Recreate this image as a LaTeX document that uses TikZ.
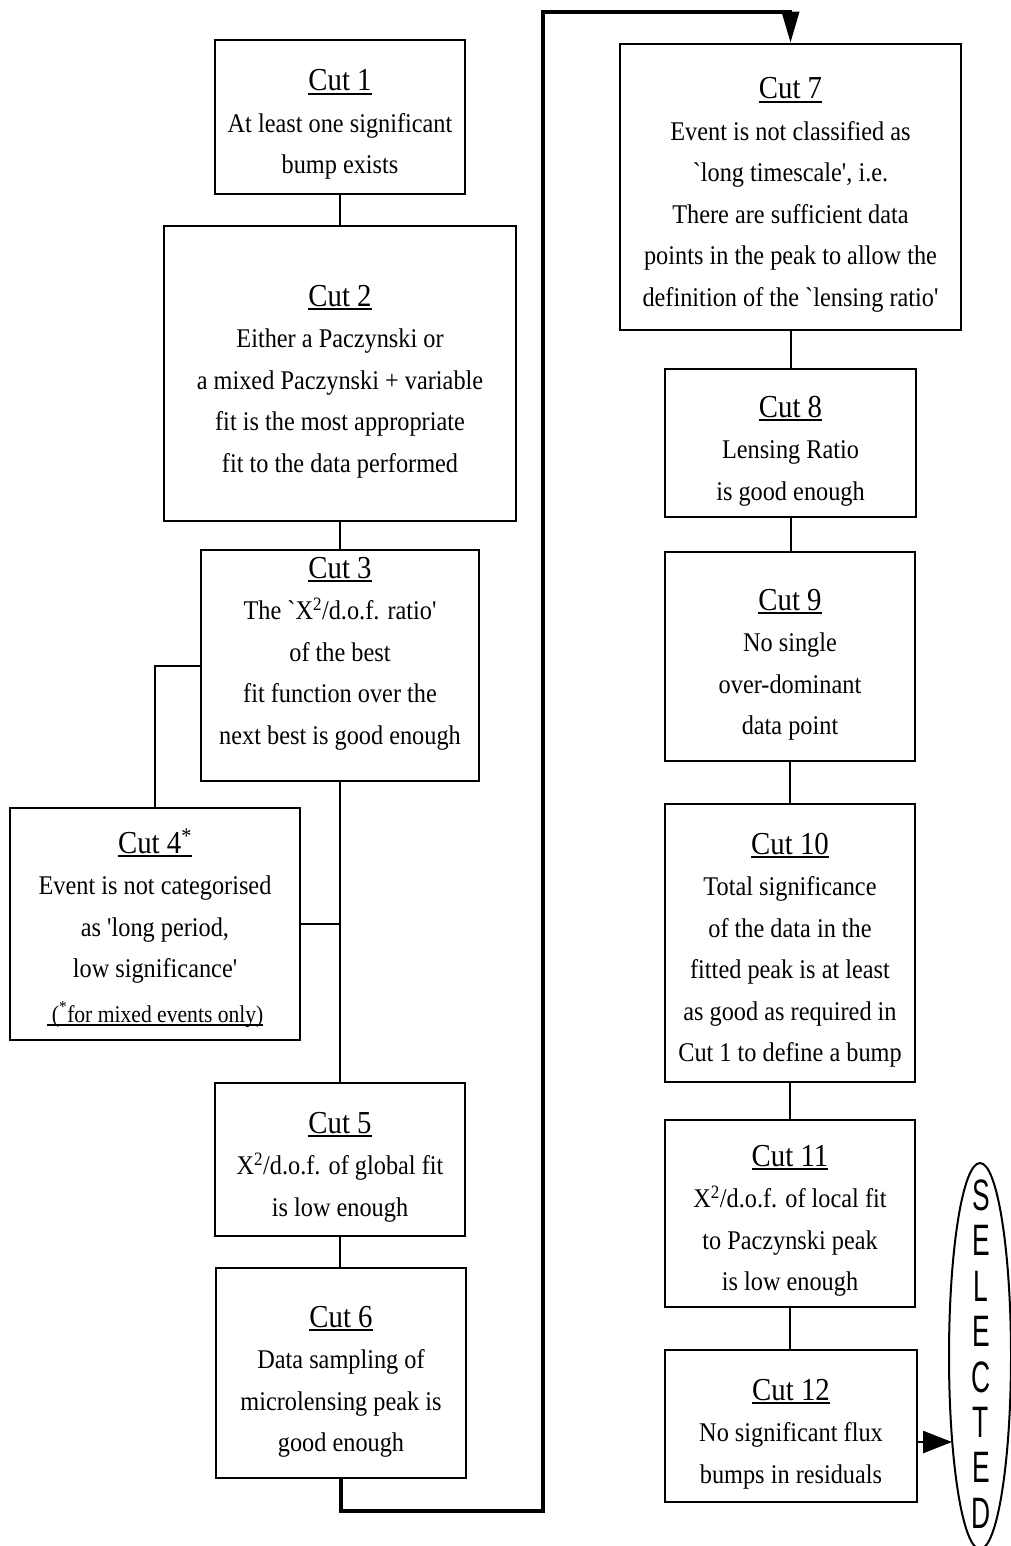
\documentclass[tikz,border=0pt]{standalone}
\usepackage{fontspec}
\newfontfamily\serf{Liberation Serif}[FakeStretch=0.9]
\newfontfamily\selfont{Liberation Sans}[FakeStretch=0.6]
\usetikzlibrary{arrows.meta,shapes.geometric}
\newsavebox\ulbox
\newcommand\myul[1]{\sbox\ulbox{#1}\rlap{\rule[-4pt]{\wd\ulbox}{2pt}}\usebox\ulbox}
\newcommand\cuttitle[1]{{\fontsize{32pt}{41.5pt}\selectfont\myul{#1}}}
\newcommand\lines[1]{\begin{tabular}[t]{@{}c@{}}#1\end{tabular}}
\newcommand\chisq{Χ\textsuperscript{2}}
\begin{document}
\begin{tikzpicture}[x=1pt,y=-1pt,
  box/.style={draw, line width=2.5pt, inner sep=0pt, rectangle},
  txt/.style={inner sep=0pt, anchor=base, font=\serf\fontsize{27pt}{41.5pt}\selectfont},
  conn/.style={line width=2pt},
  loopline/.style={line width=3.5pt, line join=miter}]
\useasboundingbox (0,0) rectangle (1011,1546);

% boxes
\node[box, minimum width=250pt, minimum height=154pt] (c1) at (340,117) {};
\node[box, minimum width=352pt, minimum height=295pt] (c2) at (340,373.5) {};
\node[box, minimum width=278pt, minimum height=231pt] (c3) at (340,665.5) {};
\node[box, minimum width=290pt, minimum height=232pt] (c4) at (155,924) {};
\node[box, minimum width=250pt, minimum height=153pt] (c5) at (340,1159.5) {};
\node[box, minimum width=250pt, minimum height=210pt] (c6) at (341,1373) {};
\node[box, minimum width=341pt, minimum height=286pt] (c7) at (790.5,187) {};
\node[box, minimum width=251pt, minimum height=148pt] (c8) at (790.5,443) {};
\node[box, minimum width=250pt, minimum height=209pt] (c9) at (790,656.5) {};
\node[box, minimum width=250pt, minimum height=278pt] (c10) at (790,943) {};
\node[box, minimum width=250pt, minimum height=187pt] (c11) at (790,1213.5) {};
\node[box, minimum width=252pt, minimum height=152pt] (c12) at (791,1426) {};

% texts
\node[txt] (t1) at (340,91) {\lines{\cuttitle{Cut 1}\\At least one significant\\bump exists}};
\node[txt] (t2) at (340,306) {\lines{\cuttitle{Cut 2}\\Either a Paczynski or\\a mixed Paczynski + variable\\fit is the most appropriate\\fit to the data performed}};
\node[txt] (t3) at (340,578) {\lines{\cuttitle{Cut 3}\\The `\chisq/d.o.f. ratio'\\of the best\\fit function over the\\next best is good enough}};
\node[txt] (t4) at (155,853) {\lines{\cuttitle{Cut 4\textsuperscript{*}}\\Event is not categorised\\as 'long period,\\low significance'\\[3pt]{\fontsize{24pt}{41.5pt}\selectfont\myul{\ (\textsuperscript{*}for mixed events only)}}}};
\node[txt] (t5) at (340,1133) {\lines{\cuttitle{Cut 5}\\\chisq/d.o.f. of global fit\\is low enough}};
\node[txt] (t6) at (341,1327) {\lines{\cuttitle{Cut 6}\\Data sampling of\\microlensing peak is\\good enough}};
\node[txt] (t7) at (790.5,99) {\lines{\cuttitle{Cut 7}\\Event is not classified as\\`long timescale', i.e.\\There are sufficient data\\points in the peak to allow the\\definition of the `lensing ratio'}};
\node[txt] (t8) at (790.5,417) {\lines{\cuttitle{Cut 8}\\Lensing Ratio\\is good enough}};
\node[txt] (t9) at (790,610) {\lines{\cuttitle{Cut 9}\\No single\\over-dominant\\data point}};
\node[txt] (t10) at (790,854) {\lines{\cuttitle{Cut 10}\\Total significance\\of the data in the\\fitted peak is at least\\as good as required in\\Cut 1 to define a bump}};
\node[txt] (t11) at (790,1166) {\lines{\cuttitle{Cut 11}\\\chisq/d.o.f. of local fit\\to Paczynski peak\\is low enough}};
\node[txt] (t12) at (791,1400) {\lines{\cuttitle{Cut 12}\\No significant flux\\bumps in residuals}};

% selected
\node[draw, ellipse, line width=2pt, minimum width=62pt, minimum height=386pt, inner sep=0pt] (sel) at (980,1356) {};
\node[inner sep=0pt, align=center, font=\selfont\fontsize{44pt}{45.4pt}\selectfont] (selt) at (981,1354) {S\\E\\L\\E\\C\\T\\E\\D};

% connectors
\draw[conn] (c1.south) -- (c2.north);
\draw[conn] (c2.south) -- (c3.north);
\draw[conn] (c3.west) -| (c4.north);
\draw[conn] (c3.south) -- (c5.north);
\draw[conn] (c4.east) -- (c4.east -| c3.south);
\draw[conn] (c5.south) -- (c5.south |- c6.north);
\draw[conn] (c7.south) -- (c7.south |- c8.north);
\draw[conn] (c8.south) -- (c8.south |- c9.north);
\draw[conn] (c9.south) -- (c10.north);
\draw[conn] (c10.south) -- (c11.north);
\draw[conn] (c11.south) -- (c11.south |- c12.north);

\coordinate (q1) at (543,1511);
\coordinate (q2) at (543,12);
\draw[loopline, -{Triangle[length=31pt,width=17pt]}] (c6.south) |- (q1) -- (q2) -| (c7.north);

\coordinate (selin) at (952,1442);
\draw[line width=2.5pt, -{Triangle[length=29pt,width=22pt]}] (c12.east |- selin) -- (selin);
\end{tikzpicture}
\end{document}
